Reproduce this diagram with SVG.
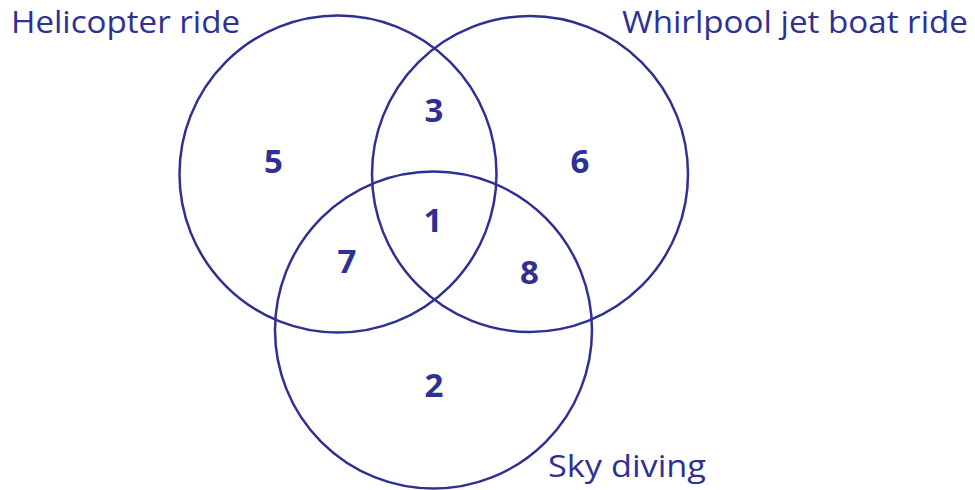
<svg xmlns="http://www.w3.org/2000/svg" width="975" height="490" viewBox="0 0 975 490">
<style>
.c{fill:none;stroke:#2e3192;stroke-width:2.5}
.lbl{font-family:"Open Sans","Liberation Sans",sans-serif;font-size:31px;fill:#2e3192}
.n{font-family:"Open Sans","Liberation Sans",sans-serif;font-size:33px;font-weight:bold;fill:#2e3192;text-anchor:middle}
</style>
<rect width="975" height="490" fill="#fff"/>
<g id="connectors"></g>
<g id="helicopter">
<circle class="c" cx="338" cy="174" r="158.5"/>
<text class="lbl" x="11" y="33" textLength="229" lengthAdjust="spacingAndGlyphs">Helicopter ride</text>
</g>
<g id="whirlpool">
<circle class="c" cx="530" cy="174" r="158"/>
<text class="lbl" x="622" y="33" textLength="346" lengthAdjust="spacingAndGlyphs">Whirlpool jet boat ride</text>
</g>
<g id="skydiving">
<circle class="c" cx="433.5" cy="330" r="158.5"/>
<text class="lbl" x="548" y="477" textLength="158" lengthAdjust="spacingAndGlyphs">Sky diving</text>
</g>
<g id="counts">
<text class="n" x="273.5" y="173">5</text>
<text class="n" x="434" y="122">3</text>
<text class="n" x="580" y="173">6</text>
<text class="n" x="433" y="232">1</text>
<text class="n" x="347" y="273">7</text>
<text class="n" x="529.5" y="284">8</text>
<text class="n" x="434" y="397">2</text>
</g>
</svg>
